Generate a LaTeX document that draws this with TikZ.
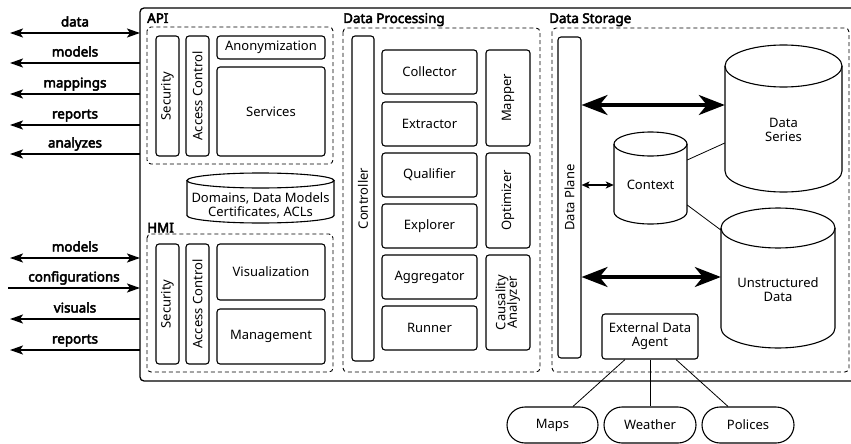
\documentclass[tikz,border=0pt]{standalone}
\usepackage{fontspec}
\setmainfont{Noto Sans}[AutoFakeBold=3.5]
\usetikzlibrary{arrows.meta}
\newcommand\dfs{\fontsize{13}{14}\selectfont}
\newcommand\bfs{\fontsize{13.4}{14}\selectfont\bfseries}
% name, x1, y1, x2, y2, ry, text, text-y
\newcommand\dbcyl[8]{%
  \node[inner sep=0pt, minimum width={#4-#2}, minimum height={#5-#3}] (#1) at ({(#2+#4)/2},{(#3+#5)/2}) {};
  \node[align=center, inner sep=0pt] (#1-t) at ({(#2+#4)/2},#8) {#7};
  \draw[cylline] (#2,{#3+#6}) -- (#2,{#5-#6})
    .. controls (#2,{#5-#6+0.5523*#6}) and ({(#2+#4)/2-0.5523*(#4-#2)/2},#5) .. ({(#2+#4)/2},#5)
    .. controls ({(#2+#4)/2+0.5523*(#4-#2)/2},#5) and (#4,{#5-#6+0.5523*#6}) .. (#4,{#5-#6})
    -- (#4,{#3+#6});
  \draw[cylline] ({(#2+#4)/2},{#3+#6}) ellipse [x radius={(#4-#2)/2}, y radius=#6];
}
\begin{document}
\begin{tikzpicture}[x=1pt,y=-1pt,
  every node/.append style={font=\dfs},
  box/.style={draw, line width=1.1pt, rounded corners=3pt, inner sep=0pt, align=center},
  cylline/.style={line width=1.1pt},
  grp/.style={draw, dash pattern=on 4pt off 3pt, line width=0.9pt, rounded corners=4pt},
  ttl/.style={font=\bfs, anchor=base west, inner sep=0pt},
  lbl/.style={font=\bfs, anchor=base, inner sep=0pt, yshift=6.5pt},
  io/.style={line width=1.8pt, -{Stealth[length=13pt,width=9pt,inset=3pt]}},
  iob/.style={line width=1.8pt, {Stealth[length=13pt,width=9pt,inset=3pt]}-{Stealth[length=13pt,width=9pt,inset=3pt]}},
  big/.style={line width=3.5pt, {Stealth[length=26pt,width=20pt,inset=8pt]}-{Stealth[length=26pt,width=20pt,inset=8pt]}},
  small/.style={line width=2pt, {Stealth[length=8pt,width=7pt,inset=2pt]}-{Stealth[length=8pt,width=7pt,inset=2pt]}},
  thinl/.style={line width=0.8pt},
  pill/.style={draw, line width=1.1pt, rounded corners=18pt, minimum width=92, minimum height=36, inner sep=0pt}
]
\useasboundingbox (0,0) rectangle (851,444);

% main frame
\draw[line width=1.3pt, rounded corners=4pt] (856,8) -- (140,8) -- (140,381) -- (856,381);

% ---------- API ----------
\node[ttl] (tapi) at (147,23) {API};
\draw[grp] (147,27) rectangle (333,164);
\node[box, minimum width=23, minimum height=120] (asec) at (167.5,96) {\rotatebox{90}{Security}};
\node[box, minimum width=23, minimum height=120] (aac) at (197.5,96) {\rotatebox{90}{Access Control}};
\node[box, minimum width=108, minimum height=23] (anon) at (271,47.5) {Anonymization};
\node[box, minimum width=108, minimum height=89] (serv) at (271,111.5) {Services};

% domains db
\dbcyl{dom}{187}{173}{334}{223}{7.5}{Domains, Data Models\\Certificates, ACLs}{205}

% ---------- HMI ----------
\node[ttl] (thmi) at (147,232.5) {HMI};
\draw[grp] (147,234) rectangle (333,372);
\node[box, minimum width=23, minimum height=120] (hsec) at (167.5,304) {\rotatebox{90}{Security}};
\node[box, minimum width=23, minimum height=120] (hac) at (197.5,304) {\rotatebox{90}{Access Control}};
\node[box, minimum width=108, minimum height=56] (vis) at (271,272) {Visualization};
\node[box, minimum width=108, minimum height=55] (mgmt) at (271,336.5) {Management};

% ---------- left arrows ----------
\coordinate (l1) at (10,33);  \coordinate (r1) at (140,33);
\coordinate (l2) at (10,63);  \coordinate (r2) at (140,63);
\coordinate (l3) at (10,94);  \coordinate (r3) at (140,94);
\coordinate (l4) at (10,125); \coordinate (r4) at (140,125);
\coordinate (l5) at (10,154); \coordinate (r5) at (140,154);
\coordinate (l6) at (10,258); \coordinate (r6) at (140,258);
\coordinate (l7) at (8,288);  \coordinate (r7) at (140,288);
\coordinate (l8) at (10,319); \coordinate (r8) at (140,319);
\coordinate (l9) at (10,350); \coordinate (r9) at (140,350);
\draw[iob] (l1) -- (r1) node[lbl, midway] {data};
\draw[io] (r2) -- (l2) node[lbl, midway] {models};
\draw[io] (r3) -- (l3) node[lbl, midway] {mappings};
\draw[io] (r4) -- (l4) node[lbl, midway] {reports};
\draw[io] (r5) -- (l5) node[lbl, midway] {analyzes};
\draw[iob] (l6) -- (r6) node[lbl, midway] {models};
\draw[io] (l7) -- (r7) node[lbl, midway] {configurations};
\draw[io] (r8) -- (l8) node[lbl, midway] {visuals};
\draw[io] (r9) -- (l9) node[lbl, midway] {reports};

% ---------- Data Processing ----------
\node[ttl] (tdp) at (343,23) {Data Processing};
\draw[grp] (343,28) rectangle (540,372);
\node[box, minimum width=22, minimum height=325] (ctrl) at (363,198.5) {\rotatebox{90}{Controller}};
\node[box, minimum width=95, minimum height=44] (coll) at (429.5,72) {Collector};
\node[box, minimum width=95, minimum height=44] (extr) at (429.5,124) {Extractor};
\node[box, minimum width=95, minimum height=44] (qual) at (429.5,175) {Qualifier};
\node[box, minimum width=95, minimum height=44] (expl) at (429.5,226) {Explorer};
\node[box, minimum width=95, minimum height=44] (aggr) at (429.5,277) {Aggregator};
\node[box, minimum width=95, minimum height=44] (runn) at (429.5,328) {Runner};
\node[box, minimum width=44, minimum height=96] (mapr) at (508,98) {\rotatebox{90}{Mapper}};
\node[box, minimum width=44, minimum height=95] (opti) at (508,200.5) {\rotatebox{90}{Optimizer}};
\node[box, minimum width=44, minimum height=95] (caus) at (508,302.5) {\rotatebox{90}{\fontsize{13}{12}\selectfont\begin{tabular}{@{}c@{}}Causality\\[-2pt]Analyzer\end{tabular}}};

% ---------- Data Storage ----------
\node[ttl] (tds) at (549,23) {Data Storage};
\draw[grp] (552,28) rectangle (849,372);
\node[box, minimum width=23, minimum height=321] (dpl) at (569.5,197.5) {\rotatebox{90}{Data Plane}};
\dbcyl{ctx}{614}{132}{687}{224}{12}{Context}{185}
\dbcyl{ds}{725}{45}{842}{192}{21}{Data\\Series}{130}
\dbcyl{ud}{721}{208}{835}{348}{20}{Unstructured\\Data}{290}
\node[box, minimum width=96, minimum height=45] (agent) at (650,336.5) {External Data\\Agent};

\draw[big] (dpl.east |- 0,105) -- (ds.west |- 0,105);
\draw[big] (dpl.east |- 0,277) -- (ud.west |- 0,277);
\draw[small] (dpl.east |- 0,185) -- (ctx.west |- 0,185);
\draw[thinl] (ctx.east |- 0,160) -- (ds.west |- 0,143);
\draw[thinl] (ctx.east |- 0,205) -- (ud.west |- 0,230);

% ---------- external sources ----------
\node[pill, minimum width=91] (maps) at (552.5,425) {Maps};
\node[pill] (weather) at (650,425) {Weather};
\node[pill] (pol) at (748,425) {Polices};
\draw[thinl] ([xshift=-25pt]agent.south) -- ([xshift=20.5pt]maps.north);
\draw[thinl] (agent.south) -- (weather.north);
\draw[thinl] ([xshift=26pt]agent.south) -- ([xshift=-20pt]pol.north);
\end{tikzpicture}
\end{document}
